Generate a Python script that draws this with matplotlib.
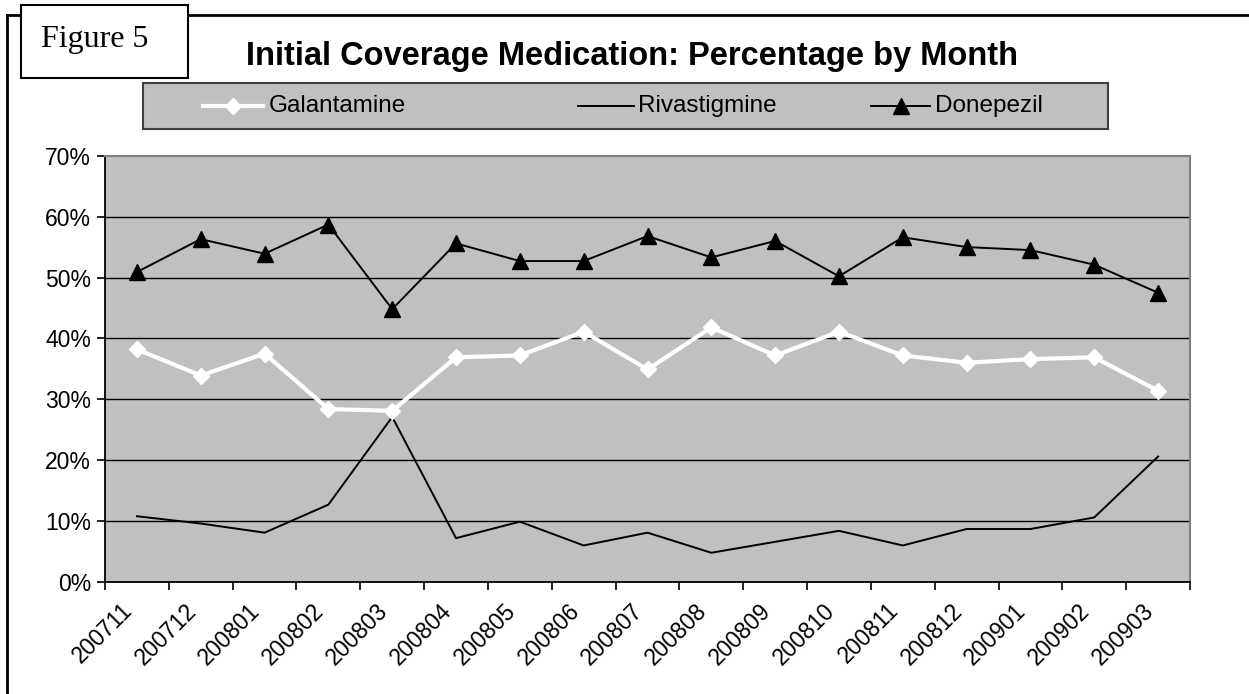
import numpy as np
import matplotlib
matplotlib.use("Agg")
import matplotlib.pyplot as plt
from matplotlib.lines import Line2D
from matplotlib.patches import Rectangle
from matplotlib.ticker import PercentFormatter
import matplotlib.transforms as mtransforms

# ---- data -------------------------------------------------------------
months = ["200711", "200712", "200801", "200802", "200803", "200804",
          "200805", "200806", "200807", "200808", "200809", "200810",
          "200811", "200812", "200901", "200902", "200903"]
galantamine = [38.2, 33.9, 37.5, 28.4, 28.1, 36.9, 37.2, 41.1, 34.9,
               41.8, 37.2, 41.1, 37.2, 36.0, 36.6, 36.9, 31.4]
rivastigmine = [10.8, 9.6, 8.1, 12.7, 27.1, 7.2, 9.9, 6.0, 8.1,
                4.8, 6.6, 8.4, 6.0, 8.7, 8.7, 10.6, 20.6]
donepezil = [50.9, 56.3, 53.9, 58.7, 44.8, 55.6, 52.7, 52.7, 56.8,
             53.3, 56.0, 50.2, 56.6, 55.0, 54.5, 52.1, 47.5]
series_names = ["Galantamine", "Rivastigmine", "Donepezil"]
y_ticks = [0, 10, 20, 30, 40, 50, 60, 70]

# ---- figure ------------------------------------------------------------
W, H = 1249, 694
fig = plt.figure(figsize=(W / 100, H / 100), dpi=100)
plt.rcParams["font.family"] = ["Liberation Sans", "DejaVu Sans"]


def fx(px):
    return px / W


def fy(py):
    return 1 - py / H


left, right, top, bottom = 105, 1190, 155.7, 582
ax = fig.add_axes([fx(left), fy(bottom), fx(right) - fx(left), fy(top) - fy(bottom)])
ax.set_facecolor("#C0C0C0")

gal_style = dict(color="white", lw=3.0, marker="D", ms=8, mfc="white", mec="white")
riv_style = dict(color="black", lw=1.4)
don_style = dict(color="black", lw=1.4, marker="^", ms=11, mfc="black", mec="black")

x = np.arange(len(months)) + 0.5
ax.plot(x, galantamine, zorder=4, **gal_style)
ax.plot(x, rivastigmine, zorder=3, **riv_style)
ax.plot(x, donepezil, zorder=4, **don_style)

ax.set_xlim(0, len(months))
ax.set_ylim(0, 70)

# gridlines
ax.set_yticks(y_ticks)
ax.yaxis.set_major_formatter(PercentFormatter(decimals=0))
for v in y_ticks[1:-1]:
    ax.axhline(v, color="black", lw=1.0, zorder=1)

# spines
for s in ["top", "right"]:
    ax.spines[s].set_color("#808080")
    ax.spines[s].set_linewidth(1.5)
for s in ["left", "bottom"]:
    ax.spines[s].set_color("black")
    ax.spines[s].set_linewidth(1.3)

ax.tick_params(axis="y", direction="out", length=6, width=1.2,
               labelsize=16.5, pad=4)

# x ticks: marks on category boundaries, labels on categories
ax.set_xticks(np.arange(len(months) + 1))
ax.set_xticklabels([])
ax.tick_params(axis="x", which="major", direction="out", length=6, width=1.2)
ax.set_xticks(x, minor=True)
ax.set_xticklabels(months, minor=True, rotation=45, ha="right", va="top",
                   rotation_mode="anchor", fontsize=16.5)
ax.tick_params(axis="x", which="minor", length=0, pad=0)
shift = mtransforms.ScaledTranslation(-16 / 100, -17 / 100, fig.dpi_scale_trans)
for lab in ax.get_xticklabels(minor=True):
    lab.set_transform(lab.get_transform() + shift)

# ---- outer frame ------------------------------------------------------
frame_kw = dict(transform=fig.transFigure, color="black", lw=2.0)
fig.add_artist(Line2D([fx(7), 1.0], [fy(14.7), fy(14.7)], **frame_kw))
fig.add_artist(Line2D([fx(7), fx(7)], [fy(14.7), 0.0], **frame_kw))

# "Figure 5" label box
fig.add_artist(Rectangle((fx(20.7), fy(77.7)), fx(188) - fx(20.7), fy(5) - fy(77.7),
                         transform=fig.transFigure, facecolor="white",
                         edgecolor="black", lw=1.5, zorder=5))
fig.text(fx(41), fy(47), "Figure 5", family=["Liberation Serif", "DejaVu Serif"],
         fontsize=23, ha="left", va="baseline", zorder=6)

# title
fig.text(fx(631.5), fy(65), "Initial Coverage Medication: Percentage by Month",
         fontsize=23.5, fontweight="bold", ha="center", va="baseline")

# ---- legend -------------------------------------------------------------
fig.add_artist(Rectangle((fx(142.7), fy(129)), fx(1108) - fx(142.7), fy(83) - fy(129),
                         transform=fig.transFigure, facecolor="#C0C0C0",
                         edgecolor="#404040", lw=1.5))
ly = fy(106)
entries = [(203, 263, gal_style, 269), (578, 634, riv_style, 638), (871, 930, don_style, 935)]
for (x0, x1, style, tx), name in zip(entries, series_names):
    line_kw = {k: v for k, v in style.items() if k in ("color", "lw")}
    fig.add_artist(Line2D([fx(x0), fx(x1)], [ly, ly], transform=fig.transFigure, **line_kw))
    if "marker" in style:
        fig.add_artist(Line2D([fx((x0 + x1) / 2)], [ly], transform=fig.transFigure, ls="none",
                              marker=style["marker"], ms=style["ms"],
                              mfc=style["mfc"], mec=style["mec"]))
    fig.text(fx(tx), fy(111.7), name, fontsize=17.5, ha="left", va="baseline")

fig.savefig("out.png", dpi=100, facecolor="white")
